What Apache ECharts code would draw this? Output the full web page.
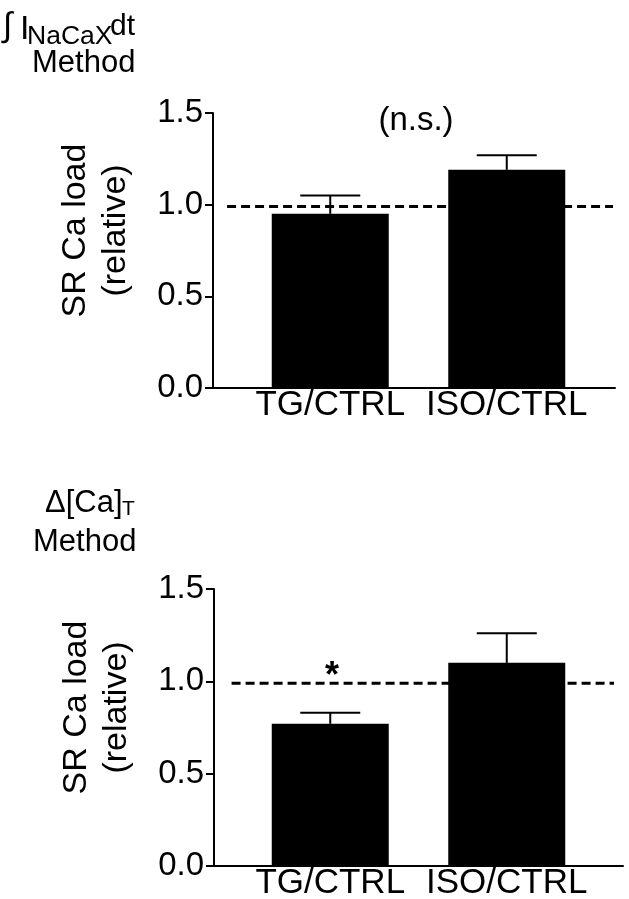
<!DOCTYPE html>
<html><head><meta charset="utf-8">
<script src="https://cdn.jsdelivr.net/npm/echarts@6/dist/echarts.min.js"></script>
<style>html,body{margin:0;padding:0;background:#fff}#c{width:629px;height:899px}</style>
</head><body><div id="c"></div>
<script>
// ---- data ----
const categories = ['TG/CTRL', 'ISO/CTRL'];
const topMeans = [0.95, 1.19];
const topErrUpper = [1.05, 1.27];
const bottomMeans = [0.77, 1.10];
const bottomErrUpper = [0.83, 1.26];
const refValue = 0.99;
const topRefSpan = [3.5, 99.5];     // percent of axis frame width
const bottomRefSpan = [4.3, 97.8];
const yName = 'SR Ca load\n(relative)';
const topNote = '(n.s.)';
const bottomNote = '*';

const FONT = 'Liberation Sans, Arial, Helvetica, sans-serif';
const chart = echarts.init(document.getElementById('c'), null, {renderer: 'canvas'});

function errorRender(params, api) {
  const x = api.value(0), v = api.value(1), hi = api.value(2);
  const p0 = api.coord([x, v]);
  const p1 = api.coord([x, hi]);
  const half = 30;
  return {type: 'group', children: [
    {type: 'line', shape: {x1: p0[0], y1: p0[1], x2: p1[0], y2: p1[1]}, style: {stroke: '#000', lineWidth: 2}},
    {type: 'line', shape: {x1: p1[0] - half, y1: p1[1], x2: p1[0] + half, y2: p1[1]}, style: {stroke: '#000', lineWidth: 2}}
  ]};
}

function t(text, left, top, fs, extra, weight) {
  return Object.assign({text: text, left: left, top: top, padding: 0,
    textStyle: {fontFamily: FONT, fontSize: fs, fontWeight: weight || 'normal', color: '#000'}}, extra || {});
}

const panels = [
  {top: 113, height: 275, axisLeft: 213, axisRight: 14, means: topMeans, err: topErrUpper, ref: topRefSpan},
  {top: 589, height: 277, axisLeft: 214, axisRight: 6, means: bottomMeans, err: bottomErrUpper, ref: bottomRefSpan}
];

const grid = [], xAxis = [], yAxis = [], series = [];
panels.forEach((p, i) => {
  const gA = grid.length;
  grid.push({left: p.axisLeft, right: p.axisRight, top: p.top, height: p.height, outerBoundsMode: 'none', containLabel: false});
  grid.push({left: 242, right: 34, top: p.top, height: p.height, outerBoundsMode: 'none', containLabel: false});
  xAxis.push({type: 'value', gridIndex: gA, min: 0, max: 100,
    axisLine: {show: true, onZero: false, lineStyle: {color: '#000', width: 2}},
    axisTick: {show: false}, axisLabel: {show: false}, splitLine: {show: false}});
  xAxis.push({type: 'category', gridIndex: gA + 1, data: categories,
    axisLine: {show: false}, axisTick: {show: false}, splitLine: {show: false},
    axisLabel: {color: '#000', fontFamily: FONT, fontSize: 35, margin: 0, interval: 0}});
  yAxis.push({type: 'value', gridIndex: gA, min: 0, max: 1.5, interval: 0.5,
    axisLine: {show: true, lineStyle: {color: '#000', width: 2}},
    axisTick: {show: true, length: 8, lineStyle: {color: '#000', width: 2}},
    splitLine: {show: false},
    axisLabel: {color: '#000', fontFamily: FONT, fontSize: 33, margin: 10, formatter: v => v.toFixed(1)},
    name: yName, nameLocation: 'middle', nameRotate: 90, nameGap: 77,
    nameTextStyle: {color: '#000', fontFamily: FONT, fontSize: 34, lineHeight: 40, padding: [0, 0, 0, 40]}});
  yAxis.push({type: 'value', gridIndex: gA + 1, min: 0, max: 1.5, show: false});
  series.push({type: 'line', xAxisIndex: gA, yAxisIndex: gA, z: 1, symbol: 'none', silent: true,
    data: [[p.ref[0], refValue], [p.ref[1], refValue]],
    lineStyle: {color: '#000', width: 3, type: [9, 5]}});
  series.push({type: 'bar', xAxisIndex: gA + 1, yAxisIndex: gA + 1, z: 3, barWidth: 117,
    data: p.means, itemStyle: {color: '#000'}});
  series.push({type: 'custom', xAxisIndex: gA + 1, yAxisIndex: gA + 1, z: 4,
    data: p.means.map((m, k) => [k, m, p.err[k]]), renderItem: errorRender});
});

const title = [
  t('\u222B', 3, 10, 34),
  t('I', 20, 13, 34),
  t('NaCaX', 27, 23, 26.5),
  t('dt', 110, 12, 30),
  t('Method', 32, 48, 31),
  t(topNote, 416, 104, 33, {textAlign: 'center'}),
  t('\u0394[Ca]', 45, 488, 31),
  t('T', 122, 499, 21),
  t('Method', 33, 527, 31),
  t(bottomNote, 332, 659, 36, {textAlign: 'center'}, 'bold')
];

chart.setOption({animation: false, backgroundColor: '#fff', title, grid, xAxis, yAxis, series});
</script></body></html>
